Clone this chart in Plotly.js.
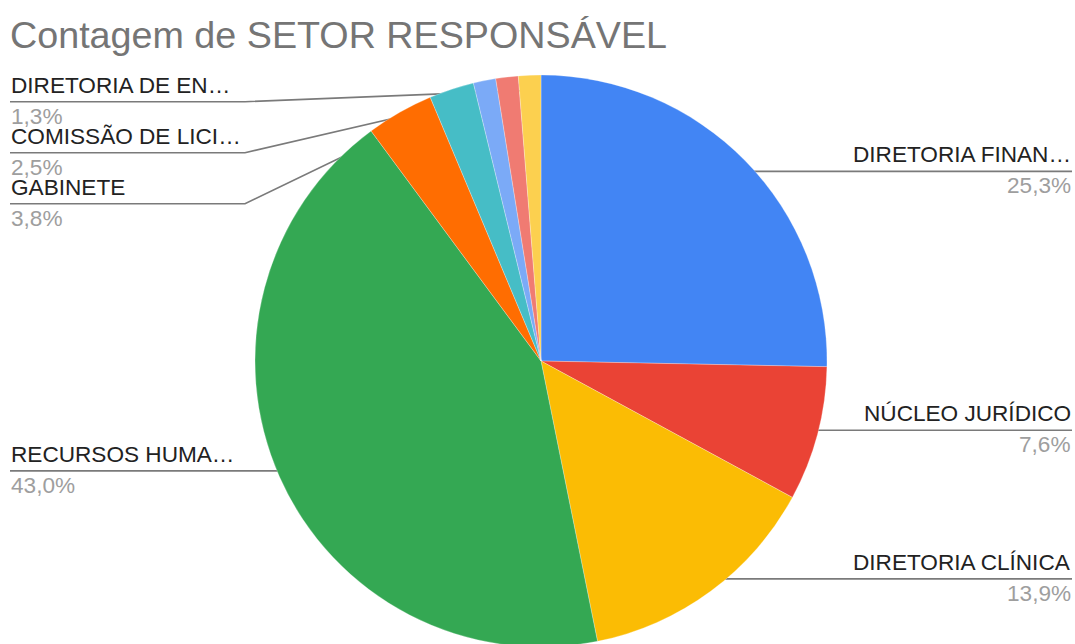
<!DOCTYPE html>
<html>
<head>
<meta charset="utf-8">
<script src="https://cdn.plot.ly/plotly-3.0.1.min.js"></script>
<style>html,body{margin:0;padding:0;overflow:hidden;background:#fff}</style>
</head>
<body>
<div id="chart" style="width:1075px;height:650px"></div>
<script>
// ---- data ----
const sectors = ["DIRETORIA FINANCEIRA", "NÚCLEO JURÍDICO", "DIRETORIA CLÍNICA", "RECURSOS HUMANOS",
                 "GABINETE", "COMISSÃO DE LICITAÇÃO", "SETOR A", "SETOR B", "DIRETORIA DE ENFERMAGEM"];
const shownLabels = ["DIRETORIA FINAN…", "NÚCLEO JURÍDICO", "DIRETORIA CLÍNICA", "RECURSOS HUMA…",
                     "GABINETE", "COMISSÃO DE LICI…", "", "", "DIRETORIA DE EN…"];
const counts = [20, 6, 11, 34, 3, 2, 1, 1, 1];
const colors = ["#4285F4", "#EA4335", "#FBBC04", "#34A853", "#FF6D01", "#46BDC6", "#7BAAF7", "#F07B72", "#FCD04F"];
const showLabel = [true, true, true, true, true, true, false, false, true];
const chartTitle = "Contagem de SETOR RESPONSÁVEL";

// ---- layout geometry (pixels) ----
const W = 1075, H = 650;
const cx = 541, cy = 361, R = 286;
const dotFrac = 0.947;
const leftX = 10, rightX = 1072, elbowX = 245;
const minLeftY = 101.7, labelGap = 51;
const labelFont = "Arial, 'Liberation Sans', sans-serif";

const total = counts.reduce((a, b) => a + b, 0);
const pct = counts.map(v => (v / total * 100).toFixed(1).replace('.', ',') + '%');

// dot positions from slice mid-angles (clockwise from 12 o'clock)
let cum = 0;
const dots = counts.map(v => {
  const mid = (cum + v / 2) / total * 2 * Math.PI;
  cum += v;
  return { x: cx + R * dotFrac * Math.sin(mid), y: cy - R * dotFrac * Math.cos(mid) };
});

// label placement
const idx = counts.map((_, i) => i).filter(i => showLabel[i]);
const left = idx.filter(i => dots[i].x < cx).sort((a, b) => dots[a].y - dots[b].y);
const right = idx.filter(i => dots[i].x >= cx).sort((a, b) => dots[a].y - dots[b].y);
const labelY = {};
let prev = -Infinity;
left.forEach(i => { const y = Math.max(dots[i].y, minLeftY, prev + labelGap); labelY[i] = y; prev = y; });
prev = -Infinity;
right.forEach(i => { const y = Math.max(dots[i].y, prev + labelGap); labelY[i] = y; prev = y; });

const traces = [{
  type: 'pie',
  labels: sectors,
  values: counts,
  sort: false,
  direction: 'clockwise',
  rotation: 0,
  textinfo: 'none',
  hoverinfo: 'label+value+percent',
  marker: { colors: colors, line: { color: 'rgba(255,255,255,0.45)', width: 0.6 } },
  domain: { x: [(cx - R) / W, (cx + R) / W], y: [(H - cy - R) / H, (H - cy + R) / H] },
  showlegend: false
}];

const annotations = [];
idx.forEach(i => {
  const isLeft = dots[i].x < cx;
  const ly = labelY[i];
  let xs, ys;
  if (isLeft) { xs = [dots[i].x, elbowX, leftX]; ys = [dots[i].y, ly, ly]; }
  else { xs = [dots[i].x, rightX]; ys = [dots[i].y, ly]; }
  traces.push({
    type: 'scatter', mode: 'lines', x: xs, y: ys, xaxis: 'x', yaxis: 'y',
    line: { color: '#7a7a7a', width: 1.6 }, hoverinfo: 'skip', showlegend: false
  });
  traces.push({
    type: 'scatter', mode: 'markers', x: [dots[i].x], y: [dots[i].y], xaxis: 'x', yaxis: 'y',
    marker: { color: '#9e9e9e', size: 8 }, hoverinfo: 'skip', showlegend: false
  });
  const ax = isLeft ? leftX : rightX, anc = isLeft ? 'left' : 'right';
  annotations.push({ x: ax, y: ly - 3, xref: 'x', yref: 'y', xanchor: anc, yanchor: 'bottom',
    text: shownLabels[i], showarrow: false, font: { family: labelFont, size: 22.6, color: '#222222' }, borderpad: 0 });
  annotations.push({ x: ax, y: ly + 1, xref: 'x', yref: 'y', xanchor: anc, yanchor: 'top',
    text: pct[i], showarrow: false, font: { family: labelFont, size: 22.6, color: '#9e9e9e' }, borderpad: 0 });
});

const layout = {
  width: W, height: H,
  margin: { l: 0, r: 0, t: 0, b: 0 },
  paper_bgcolor: '#ffffff', plot_bgcolor: 'rgba(0,0,0,0)',
  title: { text: chartTitle, x: 10 / W, xanchor: 'left', y: 1 - 35 / H, yanchor: 'middle',
           font: { family: labelFont, size: 37.7, color: '#757575' } },
  xaxis: { range: [0, W], visible: false, fixedrange: true },
  yaxis: { range: [H, 0], visible: false, fixedrange: true },
  annotations: annotations
};

Plotly.newPlot('chart', traces, layout, { displayModeBar: false, staticPlot: true });
</script>
</body>
</html>
